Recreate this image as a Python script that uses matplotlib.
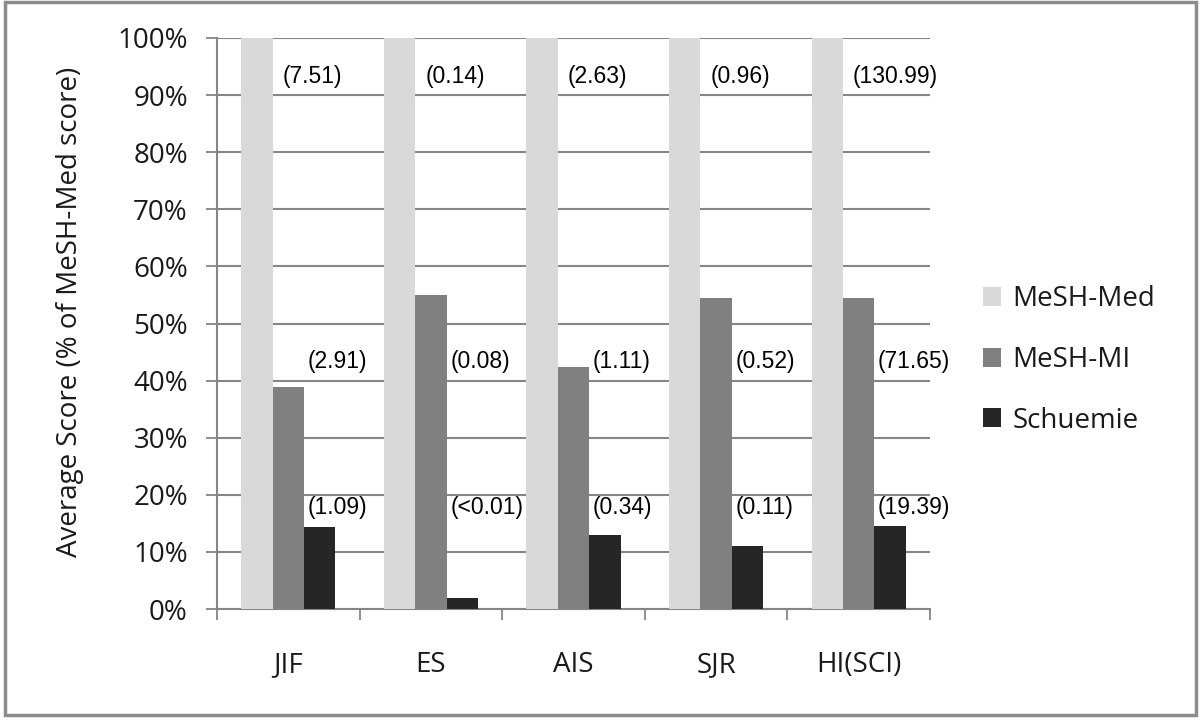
import matplotlib
matplotlib.use("Agg")
import matplotlib.pyplot as plt
from matplotlib.patches import Rectangle
import numpy as np

categories = ["JIF", "ES", "AIS", "SJR", "HI(SCI)"]
series_names = ["MeSH-Med", "MeSH-MI", "Schuemie"]
mesh_med = [100, 100, 100, 100, 100]
mesh_mi = [38.9, 55.0, 42.4, 54.5, 54.5]
schuemie = [14.3, 2.0, 13.0, 11.0, 14.6]
med_labels = ["(7.51)", "(0.14)", "(2.63)", "(0.96)", "(130.99)"]
mi_labels = ["(2.91)", "(0.08)", "(1.11)", "(0.52)", "(71.65)"]
sch_labels = ["(1.09)", "(<0.01)", "(0.34)", "(0.11)", "(19.39)"]
yticks = [0, 10, 20, 30, 40, 50, 60, 70, 80, 90, 100]
ytick_labels = [f"{v}%" for v in yticks]

colors = ["#d9d9d9", "#808080", "#262626"]
grid_c = "#868686"
tick_font = "Open Sans"
label_font = "Liberation Sans"

fig = plt.figure(figsize=(12, 7.2), dpi=100)
ax = fig.add_axes([217/1200, 1-609/720, (930-217)/1200, (609-38)/720])

x = np.arange(len(categories))
w = 0.22
for i, (vals, c, name) in enumerate(zip([mesh_med, mesh_mi, schuemie], colors, series_names)):
    ax.bar(x + (i-1)*w, vals, width=w, color=c, label=name, zorder=3)

ax.set_xlim(-0.5, len(categories)-0.5)
ax.set_ylim(0, 100)
ax.set_yticks(yticks)
ax.set_yticklabels(ytick_labels, fontfamily=tick_font, fontsize=20, color="#1a1a1a")
ax.set_xticks(x)
ax.set_xticklabels(categories, fontfamily=tick_font, fontsize=20, color="#1a1a1a")
ax.set_xticks(np.arange(len(categories)+1)-0.5, minor=True)
ax.tick_params(axis="x", which="major", length=0, pad=30)
ax.tick_params(axis="x", which="minor", length=8, width=1.3, color=grid_c, direction="out")
ax.tick_params(axis="y", which="major", length=8, width=1.3, color=grid_c, pad=13, direction="out")
ax.yaxis.grid(True, color=grid_c, linewidth=1.5, zorder=0)
ax.set_axisbelow(True)
for s in ["top", "right"]:
    ax.spines[s].set_visible(False)
for s in ["left", "bottom"]:
    ax.spines[s].set_color(grid_c)
    ax.spines[s].set_linewidth(1.5)

for i in range(len(categories)):
    ax.text(x[i] - 0.04, 93.3, med_labels[i], ha="left", va="center",
            fontfamily=label_font, fontsize=16.5, zorder=4)
    ax.text(x[i] + 0.135, 43.3, mi_labels[i], ha="left", va="center",
            fontfamily=label_font, fontsize=16.5, zorder=4)
    ax.text(x[i] + 0.135, 17.8, sch_labels[i], ha="left", va="center",
            fontfamily=label_font, fontsize=16.5, zorder=4)

fig.text(70/1200, 1-312/720, "Average Score (% of MeSH-Med score)", rotation=90,
         ha="center", va="center", fontfamily=tick_font, fontsize=20, color="#1a1a1a")

leg = fig.legend(loc="center left", bbox_to_anchor=(983/1200, 1-360/720),
                 frameon=False, prop={"family": tick_font, "size": 20},
                 handlelength=0.65, handleheight=0.65, handletextpad=0.4,
                 labelspacing=1.17, borderpad=0, borderaxespad=0)
for t in leg.get_texts():
    t.set_color("#1a1a1a")

fig.patches.append(Rectangle((5/1200, 1-715/720), 1191/1200, 713/720,
                             transform=fig.transFigure, fill=False,
                             edgecolor="#8c8c8c", linewidth=2.5))

fig.savefig("out.png", dpi=100)
